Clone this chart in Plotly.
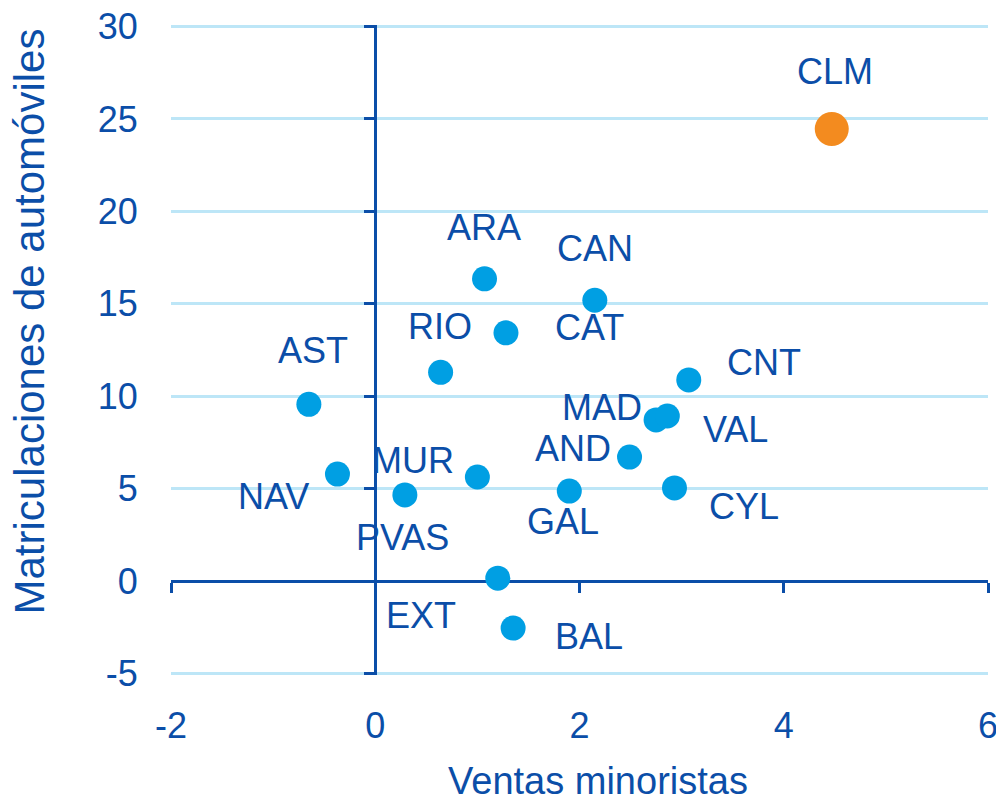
import plotly.graph_objects as go

# ---- data ----
regions = ["CLM", "ARA", "CAN", "CAT", "RIO", "AST", "CNT", "MAD", "VAL",
           "AND", "CYL", "GAL", "MUR", "NAV", "PVAS", "EXT", "BAL"]
ventas = [4.47, 1.07, 2.15, 1.28, 0.64, -0.65, 3.07, 2.75, 2.86,
          2.49, 2.93, 1.90, 1.00, -0.37, 0.29, 1.20, 1.35]
matriculaciones = [24.45, 16.35, 15.19, 13.43, 11.29, 9.56, 10.88, 8.72, 8.93,
                   6.71, 5.04, 4.87, 5.63, 5.79, 4.66, 0.16, -2.54]
highlight = ["CLM"]
x_ticks = [-2, 0, 2, 4, 6]
x_tick_labels = ["-2", "0", "2", "4", "6"]
y_ticks = [-5, 0, 5, 10, 15, 20, 25, 30]
y_tick_labels = ["-5", "0", "5", "10", "15", "20", "25", "30"]

# ---- style ----
DARK = "#0B4EA8"
BLUE = "#009FE3"
ORANGE = "#F38B1F"
GRID = "#BDE6F7"
FONT = "Liberation Sans, Arial, sans-serif"
label_offsets = {  # pixel shifts (dx, dy up)
    "CLM": (3, 58), "ARA": (-1, 51), "CAN": (0, 52), "CAT": (84, 5),
    "RIO": (-1, 46), "AST": (4, 54), "CNT": (75, 17), "MAD": (-54, 12),
    "VAL": (68, -13), "AND": (-57, 9), "CYL": (70, -19), "GAL": (-6, -30),
    "MUR": (-64, 17), "NAV": (-64, -22), "PVAS": (-2, -43), "EXT": (-77, -37),
    "BAL": (76, -8),
}
ML, MR, MT, MB = 163, 24, 17, 129
W, H = 1004, 796
PW, PH = W - ML - MR, H - MT - MB

colors = [ORANGE if r in highlight else BLUE for r in regions]
sizes = [34 if r in highlight else 25 for r in regions]

fig = go.Figure()
# invisible helpers so the crossing axes get drawn
fig.add_trace(go.Scatter(x=[], y=[], xaxis="x2", yaxis="y", showlegend=False, hoverinfo="skip"))
fig.add_trace(go.Scatter(x=[], y=[], xaxis="x", yaxis="y2", showlegend=False, hoverinfo="skip"))
fig.add_trace(go.Scatter(
    x=ventas, y=matriculaciones, mode="markers", text=regions,
    marker=dict(color=colors, size=sizes, opacity=1, line=dict(width=0)),
    showlegend=False, cliponaxis=False,
))

for r, xv, yv in zip(regions, ventas, matriculaciones):
    dx, dy = label_offsets[r]
    fig.add_annotation(x=xv, y=yv, xref="x", yref="y", text=r, showarrow=False,
                       xshift=dx, yshift=dy, xanchor="center", yanchor="middle",
                       font=dict(family=FONT, size=36, color=DARK))

xr = [x_ticks[0], x_ticks[-1]]
pad = 0.08
yr = [y_ticks[0] - pad, y_ticks[-1] + pad]
x_zero_pos = (0 - yr[0]) / (yr[1] - yr[0])
y_zero_pos = (0 - xr[0]) / (xr[1] - xr[0])

fig.update_layout(
    width=W, height=H,
    margin=dict(l=ML, r=MR, t=MT, b=MB, autoexpand=False),
    paper_bgcolor="white", plot_bgcolor="white",
    font=dict(family=FONT, color=DARK),
    xaxis=dict(range=xr, tickvals=x_ticks, ticktext=x_tick_labels, showgrid=False,
               zeroline=False, showline=False,
               ticks="outside", ticklen=19, tickcolor="rgba(0,0,0,0)",
               tickfont=dict(family=FONT, size=36, color=DARK), fixedrange=True,
               automargin=False, ticklabeloverflow="allow"),
    yaxis=dict(range=yr, tickvals=y_ticks, ticktext=y_tick_labels, showgrid=True,
               gridcolor=GRID, gridwidth=3, zeroline=False, showline=False,
               ticks="outside", ticklen=25, tickcolor="rgba(0,0,0,0)",
               tickfont=dict(family=FONT, size=36, color=DARK), fixedrange=True,
               automargin=False, ticklabeloverflow="allow"),
    xaxis2=dict(range=xr, tickvals=x_ticks, overlaying="x", anchor="free", position=x_zero_pos,
                side="bottom", showline=True, linecolor=DARK, linewidth=3,
                ticks="outside", ticklen=10, tickwidth=3, tickcolor=DARK,
                showticklabels=False, showgrid=False, zeroline=False, layer="below traces"),
    yaxis2=dict(range=yr, tickvals=y_ticks, overlaying="y", anchor="free", position=y_zero_pos,
                side="left", showline=True, linecolor=DARK, linewidth=3,
                ticks="outside", ticklen=10, tickwidth=3, tickcolor=DARK,
                showticklabels=False, showgrid=False, zeroline=False, layer="below traces"),
)

fig.add_annotation(text="Ventas minoristas", xref="paper", yref="paper",
                   x=(589.5 - ML) / PW, y=(H - MB - 773) / PH, showarrow=False,
                   xanchor="center", yanchor="middle",
                   font=dict(family=FONT, size=38, color=DARK))
fig.add_annotation(text="Matriculaciones de automóviles", xref="paper", yref="paper",
                   x=(21.5 - ML) / PW, y=(H - MB - 314) / PH, showarrow=False, textangle=-90,
                   xanchor="center", yanchor="middle",
                   font=dict(family=FONT, size=42, color=DARK))

fig.write_html("out.html")
